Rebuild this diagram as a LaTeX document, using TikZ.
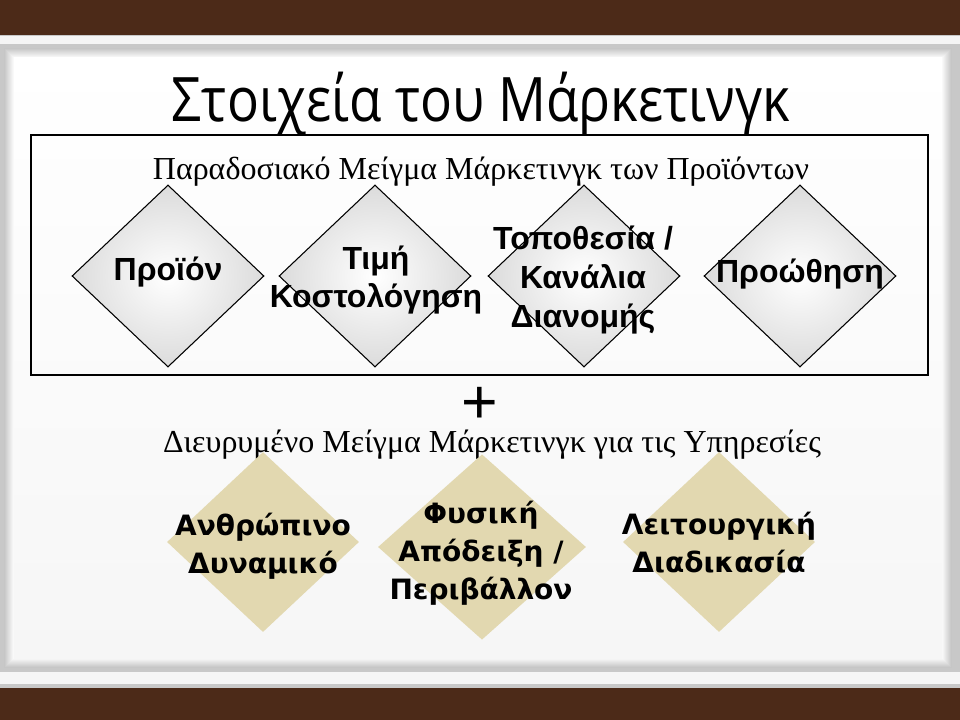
\documentclass[tikz,border=0pt]{standalone}
\usepackage{fontspec}
\usepackage{graphicx}
\setmainfont{Liberation Serif}
\newfontfamily\titlefont{Open Sans}
\newfontfamily\labelfont{Liberation Sans}
\newfontfamily\servfont{DejaVu Sans}
\usepackage{tikz}
\usetikzlibrary{shapes.geometric,backgrounds}
\definecolor{wood}{RGB}{76,42,24}
\definecolor{tan}{RGB}{226,216,176}
\definecolor{rim}{RGB}{200,200,200}

\begin{document}
\begin{tikzpicture}[x=0.75pt, y=-0.75pt,
        prod/.style={diamond, draw, line width=0.8pt, inner sep=0pt, minimum width=144pt, minimum height=136.5pt, inner color=white, outer color=gray!28},
        serv/.style={diamond, fill=tan, inner sep=0pt, minimum width=144pt, minimum height=135pt},
        prodtext/.style={font=\labelfont\bfseries\fontsize{24}{29}\selectfont, align=center, inner sep=0pt},
        servtext/.style={font=\servfont\bfseries\fontsize{21}{28.5}\selectfont, align=center, inner sep=0pt},
        heading/.style={font=\fontsize{24}{28}\selectfont, inner sep=0pt, anchor=base}]
        \useasboundingbox (0,0) rectangle (960,720);

        % slide frame
        \fill[wood] (0,0) rectangle (960,720);
        \fill[rim] (0,35) rectangle (960,688);
        \fill[gray!8] (0,36) rectangle (960,44);
        \fill[gray!8] (0,672) rectangle (960,684);
        \foreach \i [evaluate=\i as \g using 45-4.5*\i] in {0,...,10}
            \fill[gray!\g] (4+\i,48+\i) rectangle (952-\i,668-\i);
        \fill[top color=white, bottom color=gray!7] (14,58) rectangle (942,658);

        \node[heading, font=\titlefont\fontsize{46}{50}\selectfont] (T) at (481,122) {\scalebox{0.865}[1]{Στοιχεία του Μάρκετινγκ}};

        \draw[line width=2pt] (31,135) rectangle (928,375);
        \node[heading] (S1) at (481,180) {Παραδοσιακό Μείγμα Μάρκετινγκ των Προϊόντων};

        \node[prod] (A) at (168,276) {};
        \node[prod] (B) at (375,276) {};
        \node[prod] (C) at (584,276) {};
        \node[prod] (D) at (800,276) {};

        \node[prodtext] (At) at (168,272) {Προϊόν};
        \node[prodtext] (Bt) at (376,280) {Τιμή\\Κοστολόγηση};
        \node[prodtext] (Ct) at (583,280) {Τοποθεσία /\\Κανάλια\\Διανομής};
        \node[prodtext] (Dt) at (800,274) {Προώθηση};

        \node[font=\labelfont\fontsize{47}{47}\selectfont, inner sep=0pt] (plus) at (480,405) {+};
        \node[heading, text height=0.7em] (S2) at (492,452) {Διευρυμένο Μείγμα Μάρκετινγκ για τις Υπηρεσίες};

        \node[serv] (a) at (263,542) {};
        \node[serv, minimum width=156pt, minimum height=139pt] (b) at (482,547) {};
        \node[serv] (c) at (719,542) {};

        \node[servtext] (at) at (263,546) {Ανθρώπινο\\Δυναμικό};
        \node[servtext] (bt) at (481,553) {Φυσική\\Απόδειξη /\\Περιβάλλον};
        \node[servtext] (ct) at (719,543) {Λειτουργική\\Διαδικασία};
\end{tikzpicture}
\end{document}
